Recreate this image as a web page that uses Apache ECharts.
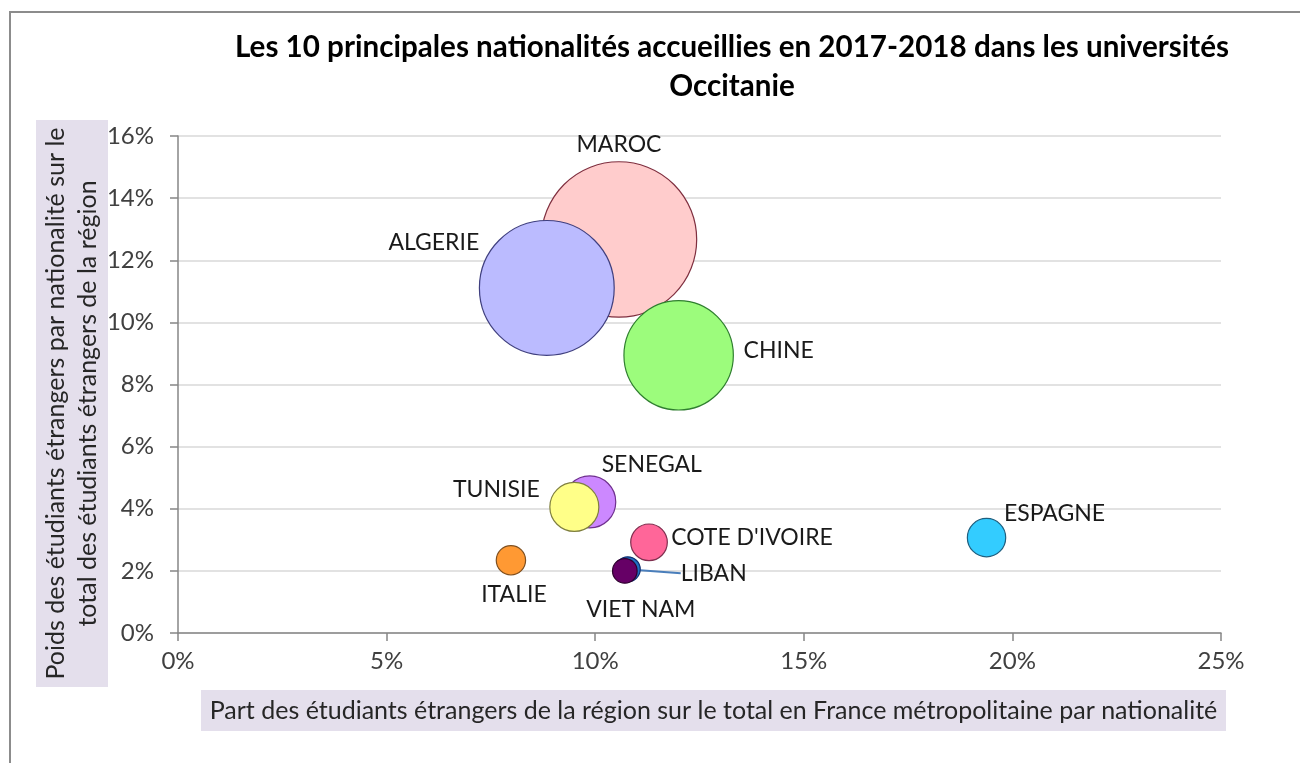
<!DOCTYPE html>
<html><head><meta charset="utf-8">
<script src="https://cdn.jsdelivr.net/npm/echarts@6/dist/echarts.min.js"></script>
<style>html,body{margin:0;padding:0;background:#fff}#c{width:1300px;height:763px}</style>
</head><body><div id="c"></div>
<script>
// ---- data ----
const pays = ['MAROC','ALGERIE','CHINE','SENEGAL','TUNISIE','ESPAGNE',"COTE D'IVOIRE",'ITALIE','LIBAN','VIET NAM'];
const partFrance = [10.57, 8.84, 12.00, 9.87, 9.50, 19.38, 11.29, 7.98, 10.78, 10.71];   // % x
const poidsRegion = [12.67, 11.11, 8.94, 4.22, 4.06, 3.07, 2.92, 2.34, 2.05, 2.00];     // % y
const taille = [241.5, 181.7, 119.7, 27.0, 24.0, 14.7, 13.4, 8.6, 6.25, 6.05];          // bubble value
const xTicks = [0, 5, 10, 15, 20, 25];
const yTicks = [0, 2, 4, 6, 8, 10, 12, 14, 16];

// ---- styles ----
const fills = ['#FFCCCC','#BBBBFF','#9CFC7C','#CC88FF','#FFFF88','#33CCFF','#FF6699','#FF9933','#1F6FC0','#660066'];
const strokes = ['#7F2F3F','#3F3F7F','#2F7F2F','#6F2F8F','#7F7F3F','#1F5F7F','#7F2F4F','#7F4F1F','#0F2F6F','#2F002F'];
const labelShift = {
  'MAROC':[0,-95], 'ALGERIE':[-113,-45], 'CHINE':[100,-5], 'SENEGAL':[62,-37], 'TUNISIE':[-78,-17],
  'ESPAGNE':[68,-24], "COTE D'IVOIRE":[103,-5], 'ITALIE':[3,34], 'LIBAN':[86,4], 'VIET NAM':[16,39]
};
const FONT = 'Lato';

const data = pays.map((p,i)=>({
  name:p,
  value:[partFrance[i], poidsRegion[i], taille[i]],
  itemStyle:{color:fills[i], borderColor:strokes[i], borderWidth:1.2, opacity:1},
  labelLine: p==='LIBAN' ? {show:true, lineStyle:{color:'#4A7EBB', width:2}} : {show:false}
}));

const chart = echarts.init(document.getElementById('c'), null, {renderer:'canvas'});
chart.setOption({
  animation:false,
  backgroundColor:'#fff',
  title:{
    text:'Les 10 principales nationalités accueillies en 2017-2018 dans les universités\nOccitanie',
    left:727, textAlign:'center', top:23,
    textStyle:{fontFamily:FONT, fontSize:29.6, fontWeight:'bold', color:'#000', lineHeight:39}
  },
  grid:{left:178, right:79, top:136, bottom:130},
  xAxis:{
    type:'value', min:0, max:25, interval:5,
    axisLine:{show:true, lineStyle:{color:'#868686', width:1.5}},
    axisTick:{show:true, length:8, lineStyle:{color:'#868686', width:1.5}},
    splitLine:{show:false},
    axisLabel:{margin:16, fontFamily:FONT, fontSize:24, color:'#404040', formatter:v=>xTicks.includes(v)? v+'%':''}
  },
  yAxis:{
    type:'value', min:0, max:16, interval:2,
    axisLine:{show:true, lineStyle:{color:'#868686', width:1.5}},
    axisTick:{show:true, length:8, lineStyle:{color:'#868686', width:1.5}},
    splitLine:{show:true, lineStyle:{color:'#D9D9D9', width:1.5}},
    axisLabel:{margin:24, fontFamily:FONT, fontSize:24, color:'#404040', formatter:v=>yTicks.includes(v)? v+'%':''}
  },
  graphic:[
    {type:'rect', shape:{x:10, y:12, width:1310, height:780}, style:{fill:'none', stroke:'#8C8C8C', lineWidth:2}, silent:true, z:-1},
    {type:'rect', shape:{x:201, y:690, width:1025, height:41}, style:{fill:'#E4DFEC'}, z:1},
    {type:'text', x:713.5, y:711, style:{text:'Part des étudiants étrangers de la région sur le total en France métropolitaine par nationalité',
      fontFamily:FONT, fontSize:25, fill:'#262626', textAlign:'center', textVerticalAlign:'middle'}, z:2},
    {type:'group', x:72, y:403.5, rotation:Math.PI/2, children:[
      {type:'rect', shape:{x:-283.5, y:-36, width:567, height:72}, style:{fill:'#E4DFEC'}, z:1},
      {type:'text', x:0, y:0, style:{text:'Poids des étudiants étrangers par nationalité sur le\ntotal des étudiants étrangers de la région',
        fontFamily:FONT, fontSize:25, lineHeight:32, fill:'#262626', textAlign:'center', textVerticalAlign:'middle'}, z:2}
    ]}
  ],
  series:[{
    type:'scatter',
    data:data,
    symbol:'circle',
    symbolSize:v=>10*Math.sqrt(v[2]),
    itemStyle:{opacity:1},
    label:{show:true, position:'inside', formatter:p=>p.name, fontFamily:FONT, fontSize:23, color:'#1A1A1A'},
    labelLayout:function(params){
      const s = labelShift[pays[params.dataIndex]];
      return {dx:s[0], dy:s[1]};
    },
    emphasis:{disabled:true}
  }]
});
</script></body></html>
